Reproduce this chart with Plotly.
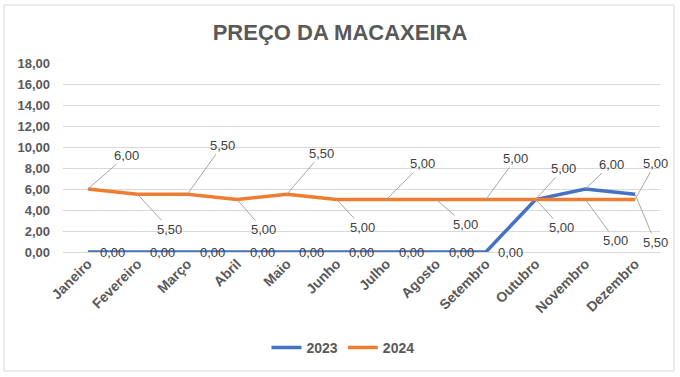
import plotly.graph_objects as go

months = ["Janeiro", "Fevereiro", "Março", "Abril", "Maio", "Junho", "Julho",
          "Agosto", "Setembro", "Outubro", "Novembro", "Dezembro"]
p2023 = [0, 0, 0, 0, 0, 0, 0, 0, 0, 5, 6, 5.5]
p2024 = [6, 5.5, 5.5, 5, 5.5, 5, 5, 5, 5, 5, 5, 5]

# label offsets (pixels) for data labels
off2024 = [(39, -34), (32, 35), (35, -49), (26, 30), (35, -41), (26, 28),
           (36, -36), (29, 25), (30, -41), (26, 28), (30, 41), (20, -36)]
off2023 = [None] * 9 + [(28, -31), (26, -25), (20, 48)]

BLUE = "#4472C4"
ORANGE = "#ED7D31"
FONT = "Liberation Sans, Arial, sans-serif"


def fmt(v):
    return f"{v:.2f}".replace(".", ",")


fig = go.Figure()
fig.add_trace(go.Scatter(x=months, y=p2023, mode="lines", name="2023",
                         line=dict(color=BLUE, width=3.5)))
fig.add_trace(go.Scatter(x=months, y=p2024, mode="lines", name="2024",
                         line=dict(color=ORANGE, width=3.5)))

ann = []
lab_font = dict(family=FONT, size=13, color="#404040")
for i, (m, v) in enumerate(zip(months, p2024)):
    ax, ay = off2024[i]
    ann.append(dict(x=m, y=v, text=fmt(v), showarrow=True, ax=ax, ay=ay,
                    arrowhead=0, arrowwidth=1, arrowcolor="#a6a6a6",
                    standoff=0, font=lab_font))
for i, (m, v) in enumerate(zip(months, p2023)):
    o = off2023[i]
    if o is None:
        ann.append(dict(x=m, y=v, text=fmt(v), showarrow=False, xshift=25,
                        font=lab_font))
    else:
        ann.append(dict(x=m, y=v, text=fmt(v), showarrow=True, ax=o[0], ay=o[1],
                        arrowhead=0, arrowwidth=1, arrowcolor="#a6a6a6",
                        standoff=0, font=lab_font))

L, R, T, B = 63, 20, 63, 125
W, H = 680, 377
pw, ph = W - L - R, H - T - B

fig.update_layout(
    width=W, height=H,
    margin=dict(l=L, r=R, t=T, b=B, autoexpand=False),
    paper_bgcolor="white", plot_bgcolor="white",
    separators=",.",
    title=dict(text="<b>PREÇO DA MACAXEIRA</b>", x=0.5, xref="container",
               y=1 - 32 / H, yref="container", xanchor="center", yanchor="middle",
               font=dict(family=FONT, size=22, color="#595959")),
    xaxis=dict(type="category", range=[-0.5, 11.5], tickangle=-45,
               showgrid=False, showline=False, ticks="",
               tickfont=dict(family=FONT, size=14, color="#595959", weight="bold")),
    yaxis=dict(range=[0, 18], dtick=2, tickformat=".2f",
               showgrid=True, gridcolor="#d9d9d9", gridwidth=1,
               zeroline=True, zerolinecolor="#d9d9d9", zerolinewidth=1,
               showline=False, ticks="", ticklabelstandoff=12,
               tickfont=dict(family=FONT, size=13, color="#595959", weight="bold")),
    legend=dict(orientation="h", x=(343 - L) / pw, xanchor="center",
                y=(ph - (348 - T)) / ph, yanchor="middle",
                font=dict(family=FONT, size=14, color="#595959", weight="bold"),
                itemwidth=30),
    annotations=ann,
    showlegend=True,
)

fig.add_shape(type="rect", xref="paper", yref="paper",
              x0=(4 - L) / pw, x1=(674 - L) / pw,
              y0=(ph - (371 - T)) / ph, y1=(ph - (5 - T)) / ph,
              line=dict(color="#d9d9d9", width=1), fillcolor="rgba(0,0,0,0)",
              layer="below")

fig.write_html("out.html", config={"displayModeBar": False},
               post_script="document.body.style.margin='0';document.body.style.padding='0';")
